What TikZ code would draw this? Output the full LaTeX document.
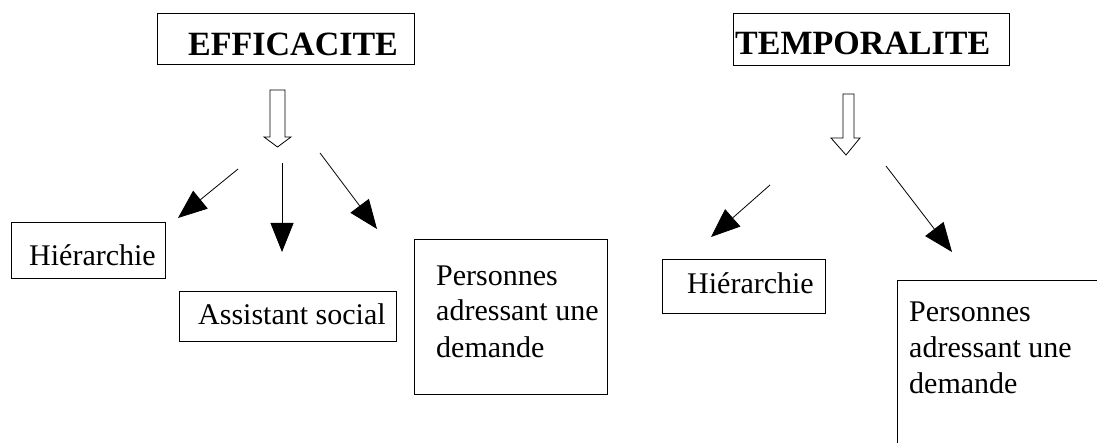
\documentclass[tikz,border=0pt]{standalone}
\usepackage{fontspec}
\setmainfont{Liberation Serif}
\usetikzlibrary{arrows.meta}
\tikzset{
  boxshape/.style={draw=black, line width=0.9pt, rectangle, inner sep=0pt, anchor=north west},
  txt/.style={inner sep=0pt, font=\fontsize{30}{36}\selectfont, anchor=base west, align=left},
  title/.style={inner sep=0pt, font=\fontsize{34}{40}\selectfont\bfseries, anchor=base west},
  arr/.style={draw=black, line width=0.8pt, -{Triangle[length=29pt,width=23pt]}},
  hollow/.style={draw=black, line width=0.8pt, fill=white, line join=miter}
}
\begin{document}
\begin{tikzpicture}[x=1pt,y=-1pt]
\useasboundingbox (0,0) rectangle (1097,443);
\fill[white] (0,0) rectangle (1097,443);
% title boxes
\node[boxshape, minimum width=257pt, minimum height=51pt] (effbox) at (157,13) {};
\node[title] (eff) at (188,56) {EFFICACITE};
\node[boxshape, minimum width=276pt, minimum height=52pt] (tempbox) at (733,13) {};
\node[title] (temp) at (735,55) {TEMPORALITE};
% hollow arrows
\draw[hollow] (270,90) -- (285,90) -- (285,137) -- (291,137) -- (277.5,147) -- (264,137) -- (270,137) -- cycle;
\draw[hollow] (843,94) -- (854,94) -- (854,138) -- (860,138) -- (846,155) -- (831,138) -- (843,138) -- cycle;
% left group boxes
\node[boxshape, minimum width=154pt, minimum height=56pt] (hier1box) at (11,222) {};
\node[txt] (hier1) at (29,266) {Hiérarchie};
\node[boxshape, minimum width=217pt, minimum height=50pt] (assbox) at (179,291) {};
\node[txt] (ass) at (198,325) {Assistant social};
\node[boxshape, minimum width=193pt, minimum height=155pt] (pers1box) at (414,239) {};
\node[txt] (pers1) at (436,357) {Personnes\\adressant une\\demande};
% right group boxes
\node[boxshape, minimum width=163pt, minimum height=54pt] (hier2box) at (662,259) {};
\node[txt] (hier2) at (687,294) {Hiérarchie};
\node[boxshape, minimum width=230pt, minimum height=190pt] (pers2box) at (897,280) {};
\node[txt] (pers2) at (909,393) {Personnes\\adressant une\\demande};
% arrows
\coordinate (a1s) at (238,169); \coordinate (a1t) at (178,218);
\coordinate (a2s) at (282,163); \coordinate (a2t) at (282,252);
\coordinate (a3s) at (320,153); \coordinate (a3t) at (377,229);
\coordinate (b1s) at (770,185); \coordinate (b1t) at (711,237);
\coordinate (b2s) at (886,166); \coordinate (b2t) at (952,252);
\draw[arr] (a1s) -- (a1t);
\draw[arr] (a2s) -- (a2t);
\draw[arr] (a3s) -- (a3t);
\draw[arr] (b1s) -- (b1t);
\draw[arr] (b2s) -- (b2t);
\end{tikzpicture}
\end{document}
